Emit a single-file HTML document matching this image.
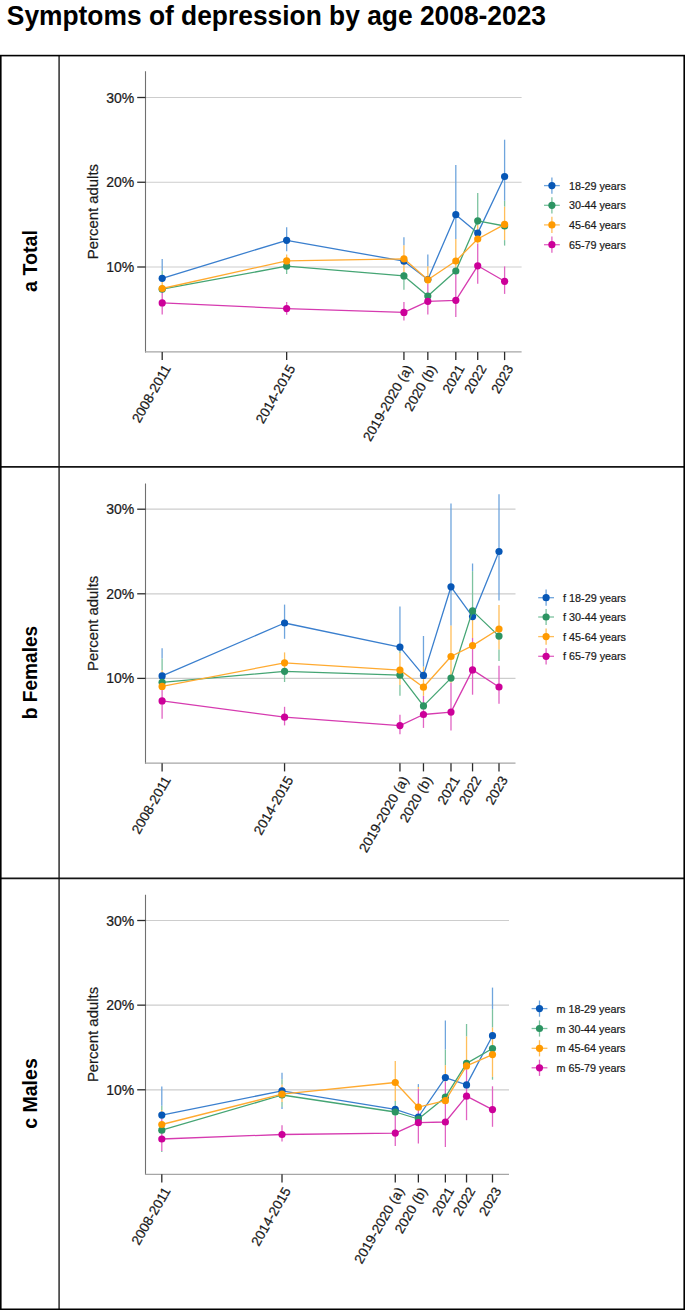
<!DOCTYPE html><html><head><meta charset="utf-8"><title>Symptoms of depression by age 2008-2023</title>
<style>html,body{margin:0;padding:0;background:#fff;}body{width:685px;height:1310px;overflow:hidden;}svg{display:block;font-family:"Liberation Sans", sans-serif;}.t{fill:#1a1a1a;stroke:#1a1a1a;stroke-width:0.22px;}</style></head><body>
<svg width="685" height="1310" viewBox="0 0 685 1310">
<text x="6.8" y="24.9" font-size="27.8" font-weight="bold" fill="#000" textLength="539.2" lengthAdjust="spacingAndGlyphs">Symptoms of depression by age 2008-2023</text>
<g fill="none" stroke-linecap="square">
<line x1="59.1" y1="56" x2="59.1" y2="1309" stroke="#3a3a3a" stroke-width="1.6" stroke-linecap="butt"/>
<line x1="0" y1="466.9" x2="685" y2="466.9" stroke="#141414" stroke-width="1.8"/>
<line x1="0" y1="878.3" x2="685" y2="878.3" stroke="#141414" stroke-width="1.8"/>
<rect x="0.8" y="55.6" width="683.4" height="1253.7" stroke="#000" stroke-width="1.6"/>
</g>
<text x="37" y="261" font-size="19.6" font-weight="bold" text-anchor="middle" textLength="62" lengthAdjust="spacingAndGlyphs" transform="rotate(-90 37 261)">a Total</text>
<line x1="145.5" y1="267" x2="521.6" y2="267" stroke="#cdcdcd" stroke-width="1.2"/>
<line x1="145.5" y1="182.25" x2="521.6" y2="182.25" stroke="#cdcdcd" stroke-width="1.2"/>
<line x1="145.5" y1="97.5" x2="521.6" y2="97.5" stroke="#cdcdcd" stroke-width="1.2"/>
<line x1="145.5" y1="71.3" x2="145.5" y2="352.4" stroke="#707070" stroke-width="1.1"/>
<line x1="145" y1="351.9" x2="521.6" y2="351.9" stroke="#a6a6a6" stroke-width="1.25"/>
<line x1="137.2" y1="267" x2="145.5" y2="267" stroke="#2b2b2b" stroke-width="1.3"/>
<text x="134.3" y="272" font-size="14" text-anchor="end" class="t">10%</text>
<line x1="137.2" y1="182.25" x2="145.5" y2="182.25" stroke="#2b2b2b" stroke-width="1.3"/>
<text x="134.3" y="187.25" font-size="14" text-anchor="end" class="t">20%</text>
<line x1="137.2" y1="97.5" x2="145.5" y2="97.5" stroke="#2b2b2b" stroke-width="1.3"/>
<text x="134.3" y="102.5" font-size="14" text-anchor="end" class="t">30%</text>
<text x="98" y="211.6" font-size="14.9" text-anchor="middle" class="t" transform="rotate(-90 98 211.6)">Percent adults</text>
<line x1="162.2" y1="351.9" x2="162.2" y2="360.1" stroke="#2b2b2b" stroke-width="1.3"/>
<text x="171.4" y="368.3" font-size="13.6" text-anchor="end" class="t" transform="rotate(-60 171.4 368.3)">2008-2011</text>
<line x1="286.66" y1="351.9" x2="286.66" y2="360.1" stroke="#2b2b2b" stroke-width="1.3"/>
<text x="295.86" y="368.3" font-size="13.6" text-anchor="end" class="t" transform="rotate(-60 295.86 368.3)">2014-2015</text>
<line x1="403.93" y1="351.9" x2="403.93" y2="360.1" stroke="#2b2b2b" stroke-width="1.3"/>
<text x="413.13" y="368.3" font-size="13.6" text-anchor="end" class="t" transform="rotate(-60 413.13 368.3)">2019-2020 (a)</text>
<line x1="427.83" y1="351.9" x2="427.83" y2="360.1" stroke="#2b2b2b" stroke-width="1.3"/>
<text x="437.03" y="368.3" font-size="13.6" text-anchor="end" class="t" transform="rotate(-60 437.03 368.3)">2020 (b)</text>
<line x1="455.81" y1="351.9" x2="455.81" y2="360.1" stroke="#2b2b2b" stroke-width="1.3"/>
<text x="465.01" y="368.3" font-size="13.6" text-anchor="end" class="t" transform="rotate(-60 465.01 368.3)">2021</text>
<line x1="477.72" y1="351.9" x2="477.72" y2="360.1" stroke="#2b2b2b" stroke-width="1.3"/>
<text x="486.92" y="368.3" font-size="13.6" text-anchor="end" class="t" transform="rotate(-60 486.92 368.3)">2022</text>
<line x1="504.6" y1="351.9" x2="504.6" y2="360.1" stroke="#2b2b2b" stroke-width="1.3"/>
<text x="513.8" y="368.3" font-size="13.6" text-anchor="end" class="t" transform="rotate(-60 513.8 368.3)">2023</text>
<line x1="162.2" y1="291.5" x2="162.2" y2="314.4" stroke="#e164c3" stroke-width="1.3"/>
<line x1="162.2" y1="282" x2="162.2" y2="291.5" stroke="#ffbe5a" stroke-width="1.3"/>
<line x1="162.2" y1="270.8" x2="162.2" y2="282" stroke="#7dc3a0" stroke-width="1.3"/>
<line x1="162.2" y1="259.1" x2="162.2" y2="270.8" stroke="#6fa5dd" stroke-width="1.3"/>
<line x1="286.66" y1="302.1" x2="286.66" y2="314.8" stroke="#e164c3" stroke-width="1.3"/>
<line x1="286.66" y1="254.4" x2="286.66" y2="267.4" stroke="#ffbe5a" stroke-width="1.3"/>
<line x1="286.66" y1="267.4" x2="286.66" y2="273.9" stroke="#7dc3a0" stroke-width="1.3"/>
<line x1="286.66" y1="227.3" x2="286.66" y2="251.3" stroke="#6fa5dd" stroke-width="1.3"/>
<line x1="403.93" y1="301.9" x2="403.93" y2="320.4" stroke="#e164c3" stroke-width="1.3"/>
<line x1="403.93" y1="245.2" x2="403.93" y2="272" stroke="#ffbe5a" stroke-width="1.3"/>
<line x1="403.93" y1="272" x2="403.93" y2="289.7" stroke="#7dc3a0" stroke-width="1.3"/>
<line x1="403.93" y1="237.2" x2="403.93" y2="245.2" stroke="#6fa5dd" stroke-width="1.3"/>
<line x1="427.83" y1="284" x2="427.83" y2="314.5" stroke="#e164c3" stroke-width="1.3"/>
<line x1="427.83" y1="266.2" x2="427.83" y2="284" stroke="#ffbe5a" stroke-width="1.3"/>
<line x1="427.83" y1="254.5" x2="427.83" y2="266.2" stroke="#6fa5dd" stroke-width="1.3"/>
<line x1="455.81" y1="274" x2="455.81" y2="316.9" stroke="#e164c3" stroke-width="1.3"/>
<line x1="455.81" y1="239" x2="455.81" y2="274" stroke="#ffbe5a" stroke-width="1.3"/>
<line x1="455.81" y1="164.9" x2="455.81" y2="239" stroke="#6fa5dd" stroke-width="1.3"/>
<line x1="477.72" y1="243.5" x2="477.72" y2="283.8" stroke="#e164c3" stroke-width="1.3"/>
<line x1="477.72" y1="225" x2="477.72" y2="243.5" stroke="#ffbe5a" stroke-width="1.3"/>
<line x1="477.72" y1="192.9" x2="477.72" y2="225" stroke="#7dc3a0" stroke-width="1.3"/>
<line x1="504.6" y1="266.4" x2="504.6" y2="293.9" stroke="#e164c3" stroke-width="1.3"/>
<line x1="504.6" y1="206.6" x2="504.6" y2="240.1" stroke="#ffbe5a" stroke-width="1.3"/>
<line x1="504.6" y1="200.8" x2="504.6" y2="206.6" stroke="#7dc3a0" stroke-width="1.3"/>
<line x1="504.6" y1="240.1" x2="504.6" y2="245.6" stroke="#7dc3a0" stroke-width="1.3"/>
<line x1="504.6" y1="139.7" x2="504.6" y2="200.8" stroke="#6fa5dd" stroke-width="1.3"/>
<polyline points="162.2,278.3 286.66,240.3 403.93,261.2 427.83,279.5 455.81,214.7 477.72,233.1 504.6,176.5" fill="none" stroke="#3a7fce" stroke-width="1.3" stroke-linejoin="round"/>
<circle cx="162.2" cy="278.3" r="3.6" fill="#0757b6"/>
<circle cx="286.66" cy="240.3" r="3.6" fill="#0757b6"/>
<circle cx="403.93" cy="261.2" r="3.6" fill="#0757b6"/>
<circle cx="427.83" cy="279.5" r="3.6" fill="#0757b6"/>
<circle cx="455.81" cy="214.7" r="3.6" fill="#0757b6"/>
<circle cx="477.72" cy="233.1" r="3.6" fill="#0757b6"/>
<circle cx="504.6" cy="176.5" r="3.6" fill="#0757b6"/>
<polyline points="162.2,289.2 286.66,266.2 403.93,275.9 427.83,296.1 455.81,271 477.72,220.8 504.6,226" fill="none" stroke="#45a574" stroke-width="1.3" stroke-linejoin="round"/>
<circle cx="162.2" cy="289.2" r="3.6" fill="#2c9462"/>
<circle cx="286.66" cy="266.2" r="3.6" fill="#2c9462"/>
<circle cx="403.93" cy="275.9" r="3.6" fill="#2c9462"/>
<circle cx="427.83" cy="296.1" r="3.6" fill="#2c9462"/>
<circle cx="455.81" cy="271" r="3.6" fill="#2c9462"/>
<circle cx="477.72" cy="220.8" r="3.6" fill="#2c9462"/>
<circle cx="504.6" cy="226" r="3.6" fill="#2c9462"/>
<polyline points="162.2,288.5 286.66,260.9 403.93,258.8 427.83,279.8 455.81,261 477.72,239 504.6,224.4" fill="none" stroke="#ffaa30" stroke-width="1.3" stroke-linejoin="round"/>
<circle cx="162.2" cy="288.5" r="3.6" fill="#ff9a00"/>
<circle cx="286.66" cy="260.9" r="3.6" fill="#ff9a00"/>
<circle cx="403.93" cy="258.8" r="3.6" fill="#ff9a00"/>
<circle cx="427.83" cy="279.8" r="3.6" fill="#ff9a00"/>
<circle cx="455.81" cy="261" r="3.6" fill="#ff9a00"/>
<circle cx="477.72" cy="239" r="3.6" fill="#ff9a00"/>
<circle cx="504.6" cy="224.4" r="3.6" fill="#ff9a00"/>
<polyline points="162.2,302.9 286.66,308.6 403.93,312.4 427.83,301.3 455.81,300.3 477.72,265.8 504.6,281.3" fill="none" stroke="#d63bb0" stroke-width="1.3" stroke-linejoin="round"/>
<circle cx="162.2" cy="302.9" r="3.6" fill="#cc0099"/>
<circle cx="286.66" cy="308.6" r="3.6" fill="#cc0099"/>
<circle cx="403.93" cy="312.4" r="3.6" fill="#cc0099"/>
<circle cx="427.83" cy="301.3" r="3.6" fill="#cc0099"/>
<circle cx="455.81" cy="300.3" r="3.6" fill="#cc0099"/>
<circle cx="477.72" cy="265.8" r="3.6" fill="#cc0099"/>
<circle cx="504.6" cy="281.3" r="3.6" fill="#cc0099"/>
<line x1="551.9" y1="177.5" x2="551.9" y2="193.7" stroke="#6fa5dd" stroke-width="1.3"/>
<line x1="544" y1="185.6" x2="559.8" y2="185.6" stroke="#6fa5dd" stroke-width="1.3"/>
<circle cx="551.9" cy="185.6" r="3.6" fill="#0757b6"/>
<text x="0" y="0" font-size="11.6" class="t" transform="translate(568.9 189.7) scale(0.93 1)">18-29 years</text>
<line x1="551.9" y1="197.2" x2="551.9" y2="213.4" stroke="#7dc3a0" stroke-width="1.3"/>
<line x1="544" y1="205.3" x2="559.8" y2="205.3" stroke="#7dc3a0" stroke-width="1.3"/>
<circle cx="551.9" cy="205.3" r="3.6" fill="#2c9462"/>
<text x="0" y="0" font-size="11.6" class="t" transform="translate(568.9 209.4) scale(0.93 1)">30-44 years</text>
<line x1="551.9" y1="216.8" x2="551.9" y2="233" stroke="#ffbe5a" stroke-width="1.3"/>
<line x1="544" y1="224.9" x2="559.8" y2="224.9" stroke="#ffbe5a" stroke-width="1.3"/>
<circle cx="551.9" cy="224.9" r="3.6" fill="#ff9a00"/>
<text x="0" y="0" font-size="11.6" class="t" transform="translate(568.9 229) scale(0.93 1)">45-64 years</text>
<line x1="551.9" y1="236.6" x2="551.9" y2="252.8" stroke="#e164c3" stroke-width="1.3"/>
<line x1="544" y1="244.7" x2="559.8" y2="244.7" stroke="#e164c3" stroke-width="1.3"/>
<circle cx="551.9" cy="244.7" r="3.6" fill="#cc0099"/>
<text x="0" y="0" font-size="11.6" class="t" transform="translate(568.9 248.8) scale(0.93 1)">65-79 years</text>
<text x="37" y="672.5" font-size="19.6" font-weight="bold" text-anchor="middle" textLength="93.5" lengthAdjust="spacingAndGlyphs" transform="rotate(-90 37 672.5)">b Females</text>
<line x1="145.5" y1="678.4" x2="515.5" y2="678.4" stroke="#cdcdcd" stroke-width="1.2"/>
<line x1="145.5" y1="593.8" x2="515.5" y2="593.8" stroke="#cdcdcd" stroke-width="1.2"/>
<line x1="145.5" y1="509.2" x2="515.5" y2="509.2" stroke="#cdcdcd" stroke-width="1.2"/>
<line x1="145.5" y1="483.5" x2="145.5" y2="763.7" stroke="#707070" stroke-width="1.1"/>
<line x1="145" y1="763.2" x2="515.5" y2="763.2" stroke="#a6a6a6" stroke-width="1.25"/>
<line x1="137.2" y1="678.4" x2="145.5" y2="678.4" stroke="#2b2b2b" stroke-width="1.3"/>
<text x="134.3" y="683.4" font-size="14" text-anchor="end" class="t">10%</text>
<line x1="137.2" y1="593.8" x2="145.5" y2="593.8" stroke="#2b2b2b" stroke-width="1.3"/>
<text x="134.3" y="598.8" font-size="14" text-anchor="end" class="t">20%</text>
<line x1="137.2" y1="509.2" x2="145.5" y2="509.2" stroke="#2b2b2b" stroke-width="1.3"/>
<text x="134.3" y="514.2" font-size="14" text-anchor="end" class="t">30%</text>
<text x="98" y="623.35" font-size="14.9" text-anchor="middle" class="t" transform="rotate(-90 98 623.35)">Percent adults</text>
<line x1="162.1" y1="763.2" x2="162.1" y2="771.4" stroke="#2b2b2b" stroke-width="1.3"/>
<text x="171.3" y="779.6" font-size="13.6" text-anchor="end" class="t" transform="rotate(-60 171.3 779.6)">2008-2011</text>
<line x1="284.56" y1="763.2" x2="284.56" y2="771.4" stroke="#2b2b2b" stroke-width="1.3"/>
<text x="293.76" y="779.6" font-size="13.6" text-anchor="end" class="t" transform="rotate(-60 293.76 779.6)">2014-2015</text>
<line x1="399.95" y1="763.2" x2="399.95" y2="771.4" stroke="#2b2b2b" stroke-width="1.3"/>
<text x="409.15" y="779.6" font-size="13.6" text-anchor="end" class="t" transform="rotate(-60 409.15 779.6)">2019-2020 (a)</text>
<line x1="423.47" y1="763.2" x2="423.47" y2="771.4" stroke="#2b2b2b" stroke-width="1.3"/>
<text x="432.67" y="779.6" font-size="13.6" text-anchor="end" class="t" transform="rotate(-60 432.67 779.6)">2020 (b)</text>
<line x1="450.99" y1="763.2" x2="450.99" y2="771.4" stroke="#2b2b2b" stroke-width="1.3"/>
<text x="460.19" y="779.6" font-size="13.6" text-anchor="end" class="t" transform="rotate(-60 460.19 779.6)">2021</text>
<line x1="472.55" y1="763.2" x2="472.55" y2="771.4" stroke="#2b2b2b" stroke-width="1.3"/>
<text x="481.75" y="779.6" font-size="13.6" text-anchor="end" class="t" transform="rotate(-60 481.75 779.6)">2022</text>
<line x1="499" y1="763.2" x2="499" y2="771.4" stroke="#2b2b2b" stroke-width="1.3"/>
<text x="508.2" y="779.6" font-size="13.6" text-anchor="end" class="t" transform="rotate(-60 508.2 779.6)">2023</text>
<line x1="162.1" y1="690" x2="162.1" y2="718.7" stroke="#e164c3" stroke-width="1.3"/>
<line x1="162.1" y1="670.3" x2="162.1" y2="690" stroke="#ffbe5a" stroke-width="1.3"/>
<line x1="162.1" y1="658.6" x2="162.1" y2="670.3" stroke="#7dc3a0" stroke-width="1.3"/>
<line x1="162.1" y1="648.3" x2="162.1" y2="658.6" stroke="#6fa5dd" stroke-width="1.3"/>
<line x1="284.56" y1="706.8" x2="284.56" y2="725.4" stroke="#e164c3" stroke-width="1.3"/>
<line x1="284.56" y1="652.4" x2="284.56" y2="673" stroke="#ffbe5a" stroke-width="1.3"/>
<line x1="284.56" y1="673" x2="284.56" y2="682" stroke="#7dc3a0" stroke-width="1.3"/>
<line x1="284.56" y1="604.6" x2="284.56" y2="638.8" stroke="#6fa5dd" stroke-width="1.3"/>
<line x1="399.95" y1="714.7" x2="399.95" y2="734.2" stroke="#e164c3" stroke-width="1.3"/>
<line x1="399.95" y1="653" x2="399.95" y2="685" stroke="#ffbe5a" stroke-width="1.3"/>
<line x1="399.95" y1="651" x2="399.95" y2="653" stroke="#7dc3a0" stroke-width="1.3"/>
<line x1="399.95" y1="685" x2="399.95" y2="695.8" stroke="#7dc3a0" stroke-width="1.3"/>
<line x1="399.95" y1="606.5" x2="399.95" y2="651" stroke="#6fa5dd" stroke-width="1.3"/>
<line x1="423.47" y1="695.8" x2="423.47" y2="727.9" stroke="#e164c3" stroke-width="1.3"/>
<line x1="423.47" y1="666.6" x2="423.47" y2="695.8" stroke="#ffbe5a" stroke-width="1.3"/>
<line x1="423.47" y1="636" x2="423.47" y2="666.6" stroke="#6fa5dd" stroke-width="1.3"/>
<line x1="450.99" y1="682.8" x2="450.99" y2="730.6" stroke="#e164c3" stroke-width="1.3"/>
<line x1="450.99" y1="625.6" x2="450.99" y2="682.8" stroke="#ffbe5a" stroke-width="1.3"/>
<line x1="450.99" y1="503.4" x2="450.99" y2="625.6" stroke="#6fa5dd" stroke-width="1.3"/>
<line x1="472.55" y1="638" x2="472.55" y2="694.7" stroke="#e164c3" stroke-width="1.3"/>
<line x1="472.55" y1="614" x2="472.55" y2="638" stroke="#ffbe5a" stroke-width="1.3"/>
<line x1="472.55" y1="571.1" x2="472.55" y2="614" stroke="#7dc3a0" stroke-width="1.3"/>
<line x1="472.55" y1="563.5" x2="472.55" y2="571.1" stroke="#6fa5dd" stroke-width="1.3"/>
<line x1="499" y1="665.7" x2="499" y2="703.8" stroke="#e164c3" stroke-width="1.3"/>
<line x1="499" y1="605.1" x2="499" y2="649.4" stroke="#ffbe5a" stroke-width="1.3"/>
<line x1="499" y1="649.4" x2="499" y2="660.9" stroke="#7dc3a0" stroke-width="1.3"/>
<line x1="499" y1="494.2" x2="499" y2="600.4" stroke="#6fa5dd" stroke-width="1.3"/>
<polyline points="162.1,675.9 284.56,623 399.95,647.1 423.47,675.4 450.99,586.8 472.55,616.6 499,551.5" fill="none" stroke="#3a7fce" stroke-width="1.3" stroke-linejoin="round"/>
<circle cx="162.1" cy="675.9" r="3.6" fill="#0757b6"/>
<circle cx="284.56" cy="623" r="3.6" fill="#0757b6"/>
<circle cx="399.95" cy="647.1" r="3.6" fill="#0757b6"/>
<circle cx="423.47" cy="675.4" r="3.6" fill="#0757b6"/>
<circle cx="450.99" cy="586.8" r="3.6" fill="#0757b6"/>
<circle cx="472.55" cy="616.6" r="3.6" fill="#0757b6"/>
<circle cx="499" cy="551.5" r="3.6" fill="#0757b6"/>
<polyline points="162.1,682.3 284.56,671.3 399.95,675.2 423.47,705.9 450.99,678.1 472.55,610.9 499,636.1" fill="none" stroke="#45a574" stroke-width="1.3" stroke-linejoin="round"/>
<circle cx="162.1" cy="682.3" r="3.6" fill="#2c9462"/>
<circle cx="284.56" cy="671.3" r="3.6" fill="#2c9462"/>
<circle cx="399.95" cy="675.2" r="3.6" fill="#2c9462"/>
<circle cx="423.47" cy="705.9" r="3.6" fill="#2c9462"/>
<circle cx="450.99" cy="678.1" r="3.6" fill="#2c9462"/>
<circle cx="472.55" cy="610.9" r="3.6" fill="#2c9462"/>
<circle cx="499" cy="636.1" r="3.6" fill="#2c9462"/>
<polyline points="162.1,686.4 284.56,662.8 399.95,670.1 423.47,687.2 450.99,656.5 472.55,645.6 499,629" fill="none" stroke="#ffaa30" stroke-width="1.3" stroke-linejoin="round"/>
<circle cx="162.1" cy="686.4" r="3.6" fill="#ff9a00"/>
<circle cx="284.56" cy="662.8" r="3.6" fill="#ff9a00"/>
<circle cx="399.95" cy="670.1" r="3.6" fill="#ff9a00"/>
<circle cx="423.47" cy="687.2" r="3.6" fill="#ff9a00"/>
<circle cx="450.99" cy="656.5" r="3.6" fill="#ff9a00"/>
<circle cx="472.55" cy="645.6" r="3.6" fill="#ff9a00"/>
<circle cx="499" cy="629" r="3.6" fill="#ff9a00"/>
<polyline points="162.1,700.9 284.56,717.2 399.95,725.6 423.47,714.5 450.99,712.1 472.55,669.9 499,687" fill="none" stroke="#d63bb0" stroke-width="1.3" stroke-linejoin="round"/>
<circle cx="162.1" cy="700.9" r="3.6" fill="#cc0099"/>
<circle cx="284.56" cy="717.2" r="3.6" fill="#cc0099"/>
<circle cx="399.95" cy="725.6" r="3.6" fill="#cc0099"/>
<circle cx="423.47" cy="714.5" r="3.6" fill="#cc0099"/>
<circle cx="450.99" cy="712.1" r="3.6" fill="#cc0099"/>
<circle cx="472.55" cy="669.9" r="3.6" fill="#cc0099"/>
<circle cx="499" cy="687" r="3.6" fill="#cc0099"/>
<line x1="546.1" y1="589.6" x2="546.1" y2="605.8" stroke="#6fa5dd" stroke-width="1.3"/>
<line x1="538.2" y1="597.7" x2="554" y2="597.7" stroke="#6fa5dd" stroke-width="1.3"/>
<circle cx="546.1" cy="597.7" r="3.6" fill="#0757b6"/>
<text x="0" y="0" font-size="11.6" class="t" transform="translate(563.1 601.8) scale(0.93 1)">f 18-29 years</text>
<line x1="546.1" y1="608.9" x2="546.1" y2="625.1" stroke="#7dc3a0" stroke-width="1.3"/>
<line x1="538.2" y1="617" x2="554" y2="617" stroke="#7dc3a0" stroke-width="1.3"/>
<circle cx="546.1" cy="617" r="3.6" fill="#2c9462"/>
<text x="0" y="0" font-size="11.6" class="t" transform="translate(563.1 621.1) scale(0.93 1)">f 30-44 years</text>
<line x1="546.1" y1="628.5" x2="546.1" y2="644.7" stroke="#ffbe5a" stroke-width="1.3"/>
<line x1="538.2" y1="636.6" x2="554" y2="636.6" stroke="#ffbe5a" stroke-width="1.3"/>
<circle cx="546.1" cy="636.6" r="3.6" fill="#ff9a00"/>
<text x="0" y="0" font-size="11.6" class="t" transform="translate(563.1 640.7) scale(0.93 1)">f 45-64 years</text>
<line x1="546.1" y1="648.2" x2="546.1" y2="664.4" stroke="#e164c3" stroke-width="1.3"/>
<line x1="538.2" y1="656.3" x2="554" y2="656.3" stroke="#e164c3" stroke-width="1.3"/>
<circle cx="546.1" cy="656.3" r="3.6" fill="#cc0099"/>
<text x="0" y="0" font-size="11.6" class="t" transform="translate(563.1 660.4) scale(0.93 1)">f 65-79 years</text>
<text x="37" y="1093.5" font-size="19.6" font-weight="bold" text-anchor="middle" textLength="70.5" lengthAdjust="spacingAndGlyphs" transform="rotate(-90 37 1093.5)">c Males</text>
<line x1="145.5" y1="1089.8" x2="509" y2="1089.8" stroke="#cdcdcd" stroke-width="1.2"/>
<line x1="145.5" y1="1005.15" x2="509" y2="1005.15" stroke="#cdcdcd" stroke-width="1.2"/>
<line x1="145.5" y1="920.5" x2="509" y2="920.5" stroke="#cdcdcd" stroke-width="1.2"/>
<line x1="145.5" y1="894.7" x2="145.5" y2="1174.8" stroke="#707070" stroke-width="1.1"/>
<line x1="145" y1="1174.3" x2="509" y2="1174.3" stroke="#a6a6a6" stroke-width="1.25"/>
<line x1="137.2" y1="1089.8" x2="145.5" y2="1089.8" stroke="#2b2b2b" stroke-width="1.3"/>
<text x="134.3" y="1094.8" font-size="14" text-anchor="end" class="t">10%</text>
<line x1="137.2" y1="1005.15" x2="145.5" y2="1005.15" stroke="#2b2b2b" stroke-width="1.3"/>
<text x="134.3" y="1010.15" font-size="14" text-anchor="end" class="t">20%</text>
<line x1="137.2" y1="920.5" x2="145.5" y2="920.5" stroke="#2b2b2b" stroke-width="1.3"/>
<text x="134.3" y="925.5" font-size="14" text-anchor="end" class="t">30%</text>
<text x="98" y="1034.5" font-size="14.9" text-anchor="middle" class="t" transform="rotate(-90 98 1034.5)">Percent adults</text>
<line x1="161.8" y1="1174.3" x2="161.8" y2="1182.5" stroke="#2b2b2b" stroke-width="1.3"/>
<text x="171" y="1190.7" font-size="13.6" text-anchor="end" class="t" transform="rotate(-60 171 1190.7)">2008-2011</text>
<line x1="282.01" y1="1174.3" x2="282.01" y2="1182.5" stroke="#2b2b2b" stroke-width="1.3"/>
<text x="291.21" y="1190.7" font-size="13.6" text-anchor="end" class="t" transform="rotate(-60 291.21 1190.7)">2014-2015</text>
<line x1="395.27" y1="1174.3" x2="395.27" y2="1182.5" stroke="#2b2b2b" stroke-width="1.3"/>
<text x="404.47" y="1190.7" font-size="13.6" text-anchor="end" class="t" transform="rotate(-60 404.47 1190.7)">2019-2020 (a)</text>
<line x1="418.36" y1="1174.3" x2="418.36" y2="1182.5" stroke="#2b2b2b" stroke-width="1.3"/>
<text x="427.56" y="1190.7" font-size="13.6" text-anchor="end" class="t" transform="rotate(-60 427.56 1190.7)">2020 (b)</text>
<line x1="445.38" y1="1174.3" x2="445.38" y2="1182.5" stroke="#2b2b2b" stroke-width="1.3"/>
<text x="454.58" y="1190.7" font-size="13.6" text-anchor="end" class="t" transform="rotate(-60 454.58 1190.7)">2021</text>
<line x1="466.54" y1="1174.3" x2="466.54" y2="1182.5" stroke="#2b2b2b" stroke-width="1.3"/>
<text x="475.74" y="1190.7" font-size="13.6" text-anchor="end" class="t" transform="rotate(-60 475.74 1190.7)">2022</text>
<line x1="492.5" y1="1174.3" x2="492.5" y2="1182.5" stroke="#2b2b2b" stroke-width="1.3"/>
<text x="501.7" y="1190.7" font-size="13.6" text-anchor="end" class="t" transform="rotate(-60 501.7 1190.7)">2023</text>
<line x1="161.8" y1="1119" x2="161.8" y2="1151" stroke="#e164c3" stroke-width="1.3"/>
<line x1="161.8" y1="1110" x2="161.8" y2="1119" stroke="#ffbe5a" stroke-width="1.3"/>
<line x1="161.8" y1="1105.8" x2="161.8" y2="1110" stroke="#7dc3a0" stroke-width="1.3"/>
<line x1="161.8" y1="1151" x2="161.8" y2="1152" stroke="#7dc3a0" stroke-width="1.3"/>
<line x1="161.8" y1="1086.4" x2="161.8" y2="1105.8" stroke="#6fa5dd" stroke-width="1.3"/>
<line x1="282.01" y1="1125.3" x2="282.01" y2="1141.5" stroke="#e164c3" stroke-width="1.3"/>
<line x1="282.01" y1="1084.4" x2="282.01" y2="1101.9" stroke="#ffbe5a" stroke-width="1.3"/>
<line x1="282.01" y1="1079.3" x2="282.01" y2="1084.4" stroke="#7dc3a0" stroke-width="1.3"/>
<line x1="282.01" y1="1101.9" x2="282.01" y2="1107.1" stroke="#7dc3a0" stroke-width="1.3"/>
<line x1="282.01" y1="1072.7" x2="282.01" y2="1079.3" stroke="#6fa5dd" stroke-width="1.3"/>
<line x1="282.01" y1="1107.1" x2="282.01" y2="1109" stroke="#6fa5dd" stroke-width="1.3"/>
<line x1="395.27" y1="1115.8" x2="395.27" y2="1146" stroke="#e164c3" stroke-width="1.3"/>
<line x1="395.27" y1="1061.1" x2="395.27" y2="1101" stroke="#ffbe5a" stroke-width="1.3"/>
<line x1="395.27" y1="1101" x2="395.27" y2="1115.8" stroke="#7dc3a0" stroke-width="1.3"/>
<line x1="418.36" y1="1088.9" x2="418.36" y2="1143.5" stroke="#e164c3" stroke-width="1.3"/>
<line x1="418.36" y1="1087" x2="418.36" y2="1088.9" stroke="#ffbe5a" stroke-width="1.3"/>
<line x1="418.36" y1="1084.1" x2="418.36" y2="1087" stroke="#6fa5dd" stroke-width="1.3"/>
<line x1="445.38" y1="1081.7" x2="445.38" y2="1147" stroke="#e164c3" stroke-width="1.3"/>
<line x1="445.38" y1="1065.2" x2="445.38" y2="1081.7" stroke="#ffbe5a" stroke-width="1.3"/>
<line x1="445.38" y1="1049.4" x2="445.38" y2="1065.2" stroke="#7dc3a0" stroke-width="1.3"/>
<line x1="445.38" y1="1020.5" x2="445.38" y2="1049.4" stroke="#6fa5dd" stroke-width="1.3"/>
<line x1="466.54" y1="1069.3" x2="466.54" y2="1120.2" stroke="#e164c3" stroke-width="1.3"/>
<line x1="466.54" y1="1036.4" x2="466.54" y2="1069.3" stroke="#ffbe5a" stroke-width="1.3"/>
<line x1="466.54" y1="1024" x2="466.54" y2="1036.4" stroke="#7dc3a0" stroke-width="1.3"/>
<line x1="492.5" y1="1086.3" x2="492.5" y2="1126.8" stroke="#e164c3" stroke-width="1.3"/>
<line x1="492.5" y1="1027.4" x2="492.5" y2="1076.9" stroke="#ffbe5a" stroke-width="1.3"/>
<line x1="492.5" y1="1009.1" x2="492.5" y2="1027.4" stroke="#7dc3a0" stroke-width="1.3"/>
<line x1="492.5" y1="1076.9" x2="492.5" y2="1079.7" stroke="#7dc3a0" stroke-width="1.3"/>
<line x1="492.5" y1="987.6" x2="492.5" y2="1009.1" stroke="#6fa5dd" stroke-width="1.3"/>
<polyline points="161.8,1115.1 282.01,1090.8 395.27,1109.4 418.36,1117 445.38,1077.6 466.54,1084.9 492.5,1035.7" fill="none" stroke="#3a7fce" stroke-width="1.3" stroke-linejoin="round"/>
<circle cx="161.8" cy="1115.1" r="3.6" fill="#0757b6"/>
<circle cx="282.01" cy="1090.8" r="3.6" fill="#0757b6"/>
<circle cx="395.27" cy="1109.4" r="3.6" fill="#0757b6"/>
<circle cx="418.36" cy="1117" r="3.6" fill="#0757b6"/>
<circle cx="445.38" cy="1077.6" r="3.6" fill="#0757b6"/>
<circle cx="466.54" cy="1084.9" r="3.6" fill="#0757b6"/>
<circle cx="492.5" cy="1035.7" r="3.6" fill="#0757b6"/>
<polyline points="161.8,1130.2 282.01,1095 395.27,1112 418.36,1119 445.38,1097.2 466.54,1063.4 492.5,1048.5" fill="none" stroke="#45a574" stroke-width="1.3" stroke-linejoin="round"/>
<circle cx="161.8" cy="1130.2" r="3.6" fill="#2c9462"/>
<circle cx="282.01" cy="1095" r="3.6" fill="#2c9462"/>
<circle cx="395.27" cy="1112" r="3.6" fill="#2c9462"/>
<circle cx="418.36" cy="1119" r="3.6" fill="#2c9462"/>
<circle cx="445.38" cy="1097.2" r="3.6" fill="#2c9462"/>
<circle cx="466.54" cy="1063.4" r="3.6" fill="#2c9462"/>
<circle cx="492.5" cy="1048.5" r="3.6" fill="#2c9462"/>
<polyline points="161.8,1124.5 282.01,1094.2 395.27,1082.5 418.36,1107.2 445.38,1100.7 466.54,1065.9 492.5,1054.6" fill="none" stroke="#ffaa30" stroke-width="1.3" stroke-linejoin="round"/>
<circle cx="161.8" cy="1124.5" r="3.6" fill="#ff9a00"/>
<circle cx="282.01" cy="1094.2" r="3.6" fill="#ff9a00"/>
<circle cx="395.27" cy="1082.5" r="3.6" fill="#ff9a00"/>
<circle cx="418.36" cy="1107.2" r="3.6" fill="#ff9a00"/>
<circle cx="445.38" cy="1100.7" r="3.6" fill="#ff9a00"/>
<circle cx="466.54" cy="1065.9" r="3.6" fill="#ff9a00"/>
<circle cx="492.5" cy="1054.6" r="3.6" fill="#ff9a00"/>
<polyline points="161.8,1139 282.01,1134.5 395.27,1133.1 418.36,1122.7 445.38,1122 466.54,1096.2 492.5,1109.6" fill="none" stroke="#d63bb0" stroke-width="1.3" stroke-linejoin="round"/>
<circle cx="161.8" cy="1139" r="3.6" fill="#cc0099"/>
<circle cx="282.01" cy="1134.5" r="3.6" fill="#cc0099"/>
<circle cx="395.27" cy="1133.1" r="3.6" fill="#cc0099"/>
<circle cx="418.36" cy="1122.7" r="3.6" fill="#cc0099"/>
<circle cx="445.38" cy="1122" r="3.6" fill="#cc0099"/>
<circle cx="466.54" cy="1096.2" r="3.6" fill="#cc0099"/>
<circle cx="492.5" cy="1109.6" r="3.6" fill="#cc0099"/>
<line x1="539.5" y1="1000.5" x2="539.5" y2="1016.7" stroke="#6fa5dd" stroke-width="1.3"/>
<line x1="531.6" y1="1008.6" x2="547.4" y2="1008.6" stroke="#6fa5dd" stroke-width="1.3"/>
<circle cx="539.5" cy="1008.6" r="3.6" fill="#0757b6"/>
<text x="0" y="0" font-size="11.6" class="t" transform="translate(556.5 1012.7) scale(0.93 1)">m 18-29 years</text>
<line x1="539.5" y1="1020.4" x2="539.5" y2="1036.6" stroke="#7dc3a0" stroke-width="1.3"/>
<line x1="531.6" y1="1028.5" x2="547.4" y2="1028.5" stroke="#7dc3a0" stroke-width="1.3"/>
<circle cx="539.5" cy="1028.5" r="3.6" fill="#2c9462"/>
<text x="0" y="0" font-size="11.6" class="t" transform="translate(556.5 1032.6) scale(0.93 1)">m 30-44 years</text>
<line x1="539.5" y1="1040.2" x2="539.5" y2="1056.4" stroke="#ffbe5a" stroke-width="1.3"/>
<line x1="531.6" y1="1048.3" x2="547.4" y2="1048.3" stroke="#ffbe5a" stroke-width="1.3"/>
<circle cx="539.5" cy="1048.3" r="3.6" fill="#ff9a00"/>
<text x="0" y="0" font-size="11.6" class="t" transform="translate(556.5 1052.4) scale(0.93 1)">m 45-64 years</text>
<line x1="539.5" y1="1059.7" x2="539.5" y2="1075.9" stroke="#e164c3" stroke-width="1.3"/>
<line x1="531.6" y1="1067.8" x2="547.4" y2="1067.8" stroke="#e164c3" stroke-width="1.3"/>
<circle cx="539.5" cy="1067.8" r="3.6" fill="#cc0099"/>
<text x="0" y="0" font-size="11.6" class="t" transform="translate(556.5 1071.9) scale(0.93 1)">m 65-79 years</text>
</svg></body></html>
